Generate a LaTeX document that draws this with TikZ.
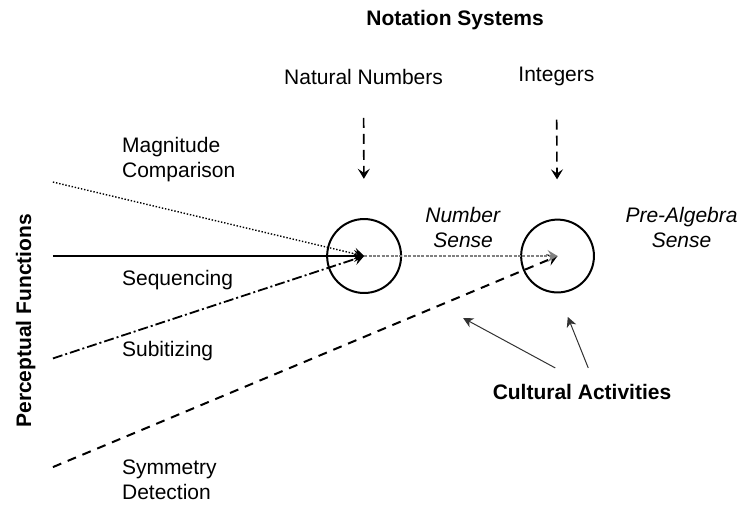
\documentclass[tikz,border=0pt]{standalone}
\usepackage{fontspec}
\setmainfont{Liberation Sans}
\usetikzlibrary{arrows.meta}
\newcommand{\txtsize}{\fontsize{10.5}{12.5}\selectfont}

\begin{document}
\begin{tikzpicture}[every node/.style={font=\txtsize, inner sep=0pt}]
    \useasboundingbox (0,0) rectangle (13.06,-8.86);

    % Top labels
    \node (notsys) at (8.00,-0.35) {\textbf{Notation Systems}};
    \node (natnum) at (6.39,-1.35) {Natural Numbers};
    \node (intgrs) at (9.78,-1.35) {Integers};

    % Senses
    \node (ns) [circle, draw, line width=1pt, minimum size=1.30cm] at (6.40,-4.50) {};
    \node (pas) [circle, draw, line width=1pt, minimum size=1.28cm] at (9.80,-4.50) {};
    \node (nslabel) [align=center] at (8.14,-3.99) {\textit{Number}\\\textit{Sense}};
    \node (paslabel) [align=center] at (11.98,-3.99) {\textit{Pre-Algebra}\\\textit{Sense}};

    % Perceptual functions
    \node (perc) [rotate=90] at (0.45,-5.64) {\textbf{Perceptual Functions}};
    \coordinate (mag) at (0.93,-3.20);
    \coordinate (seq) at (0.93,-4.50);
    \coordinate (sub) at (0.93,-6.30);
    \coordinate (sym) at (0.93,-8.21);
    \node (maglabel) [anchor=west, align=left] at (2.14,-2.81) {Magnitude\\Comparison};
    \node (seqlabel) [anchor=west] at (2.14,-4.93) {Sequencing};
    \node (sublabel) [anchor=west] at (2.14,-6.17) {Subitizing};
    \node (symlabel) [anchor=west, align=left] at (2.14,-8.43) {Symmetry\\Detection};

    % Cultural activities
    \node (cult) at (10.23,-6.89) {\textbf{Cultural Activities}};
    \coordinate (cultl) at (8.14,-5.59);
    \coordinate (cultr) at (9.98,-5.57);

    \path[-{Stealth[length=5pt,width=6pt,inset=2pt]}]
        % notation arrows
	(natnum) edge [line width=0.8pt, dash pattern=on 5pt off 3pt, shorten <=0.58cm, shorten >=0.69cm] (ns)
	(intgrs) edge [line width=0.8pt, dash pattern=on 5pt off 3pt, shorten <=0.58cm, shorten >=0.69cm] (pas)

	% perceptual functions
	(mag) edge [line width=0.7pt, dash pattern=on 0.7pt off 0.9pt] (ns.center)
	(seq) edge [line width=1pt] (ns.center)
	(sub) edge [line width=0.9pt, dash pattern=on 5pt off 1.5pt on 1pt off 1.5pt] (ns.center)
	(sym) edge [line width=1pt, dash pattern=on 4.5pt off 3.5pt] (pas.center)
	(ns.center) edge [line width=0.6pt, gray, dash pattern=on 1.5pt off 0.7pt] (pas.center);

    \path[-{Stealth[length=5pt,width=5pt,inset=1.5pt]}, line width=0.5pt, black!80]
	% cultural activities
	([xshift=-0.47cm,yshift=0.28cm]cult.north) edge (cultl)
	([xshift=0.11cm,yshift=0.28cm]cult.north) edge (cultr);
\end{tikzpicture}
\end{document}
